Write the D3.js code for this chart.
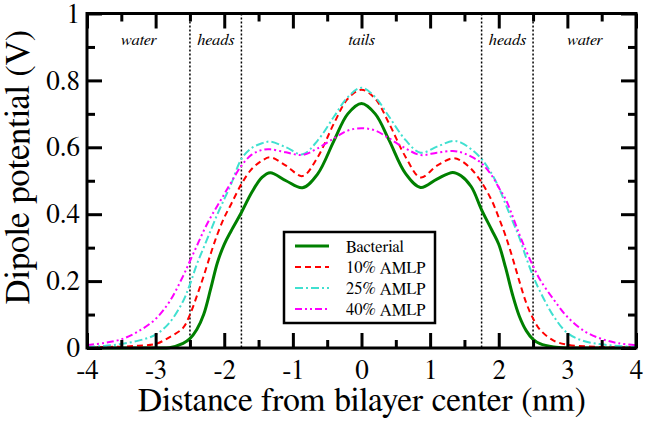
<!DOCTYPE html>
<html><head><meta charset="utf-8">
<script src="https://cdn.jsdelivr.net/npm/d3@7"></script>
<style>body{margin:0;background:#fff}svg{display:block}
.serif{font-family:FreeSerif,"Liberation Serif",serif}
.ital{font-family:FreeSerif,serif;font-style:italic}</style>
</head><body>
<script>
const xs = [-4,-3.75,-3.5,-3.25,-3,-2.8,-2.6,-2.5,-2.4,-2.3,-2.2,-2.1,-2,-1.9,-1.75,-1.6,-1.45,-1.33,-1.1,-0.86,-0.64,-0.4,-0.2,0,
            0.2,0.4,0.64,0.86,1.1,1.33,1.45,1.6,1.75,1.9,2,2.1,2.2,2.3,2.4,2.5,2.6,2.8,3,3.25,3.5,3.75,4];
const bacterial = [0,0,0,0,0,0.001,0.014,0.028,0.055,0.10,0.175,0.255,0.31,0.35,0.405,0.465,0.51,0.524,0.50,0.479,0.52,0.62,0.70,0.731,
                   0.70,0.622,0.522,0.480,0.505,0.525,0.515,0.482,0.413,0.352,0.31,0.24,0.16,0.095,0.052,0.026,0.013,0.003,0,0,0,0,0];
const amlp10 = [0.002,0.003,0.004,0.007,0.012,0.032,0.06,0.10,0.155,0.215,0.28,0.34,0.39,0.43,0.49,0.535,0.56,0.570,0.545,0.514,0.57,0.672,0.745,0.772,
                0.745,0.672,0.572,0.510,0.545,0.567,0.56,0.535,0.495,0.44,0.39,0.335,0.27,0.20,0.135,0.088,0.055,0.022,0.01,0.005,0.003,0.002,0.002];
const amlp25 = [0.003,0.006,0.012,0.022,0.04,0.075,0.14,0.19,0.25,0.30,0.35,0.40,0.445,0.49,0.565,0.598,0.612,0.617,0.60,0.579,0.62,0.692,0.75,0.778,
                0.75,0.692,0.622,0.584,0.602,0.619,0.614,0.594,0.565,0.52,0.48,0.43,0.38,0.33,0.27,0.215,0.17,0.095,0.045,0.02,0.011,0.006,0.003];
const amlp40 = [0.009,0.015,0.026,0.05,0.087,0.138,0.215,0.26,0.305,0.35,0.39,0.425,0.46,0.495,0.545,0.578,0.592,0.594,0.585,0.577,0.597,0.627,0.65,0.657,
                0.65,0.627,0.597,0.577,0.584,0.589,0.585,0.572,0.552,0.515,0.48,0.445,0.395,0.34,0.29,0.245,0.205,0.145,0.093,0.05,0.027,0.014,0.008];
const seriesNames = ["Bacterial","10% AMLP","25% AMLP","40% AMLP"];
const xTickLabels = ["-4","-3","-2","-1","0","1","2","3","4"];
const yTickLabels = ["0","0.2","0.4","0.6","0.8","1"];
const regionBounds = [-2.5,-1.75,1.75,2.5];
const regionLabels = [{t:"water",x:-3.25},{t:"heads",x:-2.125},{t:"tails",x:0},{t:"heads",x:2.125},{t:"water",x:3.25}];

const W=646,H=421;
const m={l:87,r:10,t:13.5,b:73};
const svg=d3.select("body").append("svg").attr("width",W).attr("height",H);
const x=d3.scaleLinear().domain([-4,4]).range([m.l,W-m.r]);
const y=d3.scaleLinear().domain([0,1]).range([H-m.b,m.t]);
const pw=W-m.r-m.l, ph=H-m.b-m.t;

const styles=[
  {c:"#008000",w:3,d:null},
  {c:"#ff0000",w:2,d:"6,4"},
  {c:"#40e0d0",w:2,d:"8,3,2,3"},
  {c:"#ff00ff",w:2,d:"7,3,2,3,2,3"}
];
const data=[bacterial,amlp10,amlp25,amlp40];

// region dividers
svg.append("g").selectAll("line").data(regionBounds).join("line")
  .attr("x1",d=>x(d)).attr("x2",d=>x(d)).attr("y1",y(1)).attr("y2",y(0))
  .attr("stroke","#000").attr("stroke-width",1.5).attr("stroke-dasharray","2,2");
svg.append("g").selectAll("text").data(regionLabels).join("text")
  .attr("class","ital")
  .attr("x",d=>x(d.x)).attr("y",45).attr("text-anchor","middle")
  .style("font-size","16.5px")
  .text(d=>d.t);

// curves
const line=d3.line().x(d=>x(d[0])).y(d=>y(d[1])).curve(d3.curveCatmullRom.alpha(0.5));
data.forEach((s,i)=>{
  svg.append("path").datum(xs.map((v,j)=>[v,s[j]]))
    .attr("d",line).attr("fill","none").attr("stroke",styles[i].c)
    .attr("stroke-width",styles[i].w).attr("stroke-dasharray",styles[i].d);
});

// axes
const axB=d3.axisBottom(x).tickValues(d3.range(-4,4.01,1)).tickFormat((d,i)=>xTickLabels[i]).tickSizeInner(-15).tickSizeOuter(0).tickPadding(12);
const axBm=d3.axisBottom(x).tickValues(d3.range(-3.5,4,1)).tickFormat("").tickSizeInner(-8).tickSizeOuter(0);
const axT=d3.axisTop(x).tickValues(d3.range(-4,4.01,1)).tickFormat("").tickSizeInner(-15).tickSizeOuter(0);
const axTm=d3.axisTop(x).tickValues(d3.range(-3.5,4,1)).tickFormat("").tickSizeInner(-8).tickSizeOuter(0);
const axL=d3.axisLeft(y).tickValues([0,0.2,0.4,0.6,0.8,1]).tickFormat((d,i)=>yTickLabels[i]).tickSizeInner(-15).tickSizeOuter(0).tickPadding(7);
const axLm=d3.axisLeft(y).tickValues([0.1,0.3,0.5,0.7,0.9]).tickFormat("").tickSizeInner(-8).tickSizeOuter(0);
const axR=d3.axisRight(y).tickValues([0,0.2,0.4,0.6,0.8,1]).tickFormat("").tickSizeInner(-15).tickSizeOuter(0);
const axRm=d3.axisRight(y).tickValues([0.1,0.3,0.5,0.7,0.9]).tickFormat("").tickSizeInner(-8).tickSizeOuter(0);
function put(ax,tr){
  const g=svg.append("g").attr("transform",tr).call(ax);
  g.attr("font-family",null).attr("font-size",null);
  g.select(".domain").remove();
  g.selectAll(".tick line").attr("stroke","#000").attr("stroke-width",3);
  g.selectAll("text").attr("class","serif").style("font-size","27px").attr("fill","#000");
  return g;
}
put(axB,`translate(0,${y(0)})`);
put(axBm,`translate(0,${y(0)})`);
put(axT,`translate(0,${y(1)})`);
put(axTm,`translate(0,${y(1)})`);
put(axL,`translate(${x(-4)},0)`);
put(axLm,`translate(${x(-4)},0)`);
put(axR,`translate(${x(4)},0)`);
put(axRm,`translate(${x(4)},0)`);
svg.append("rect").attr("x",m.l).attr("y",m.t).attr("width",pw).attr("height",ph)
  .attr("fill","none").attr("stroke","#000").attr("stroke-width",3);

// axis titles
svg.append("text").attr("class","serif").attr("x",362).attr("y",411).attr("text-anchor","middle")
  .style("font-size","33.5px").text("Distance from bilayer center (nm)");
svg.append("text").attr("class","serif").attr("transform",`translate(29,167) rotate(-90)`).attr("text-anchor","middle")
  .style("font-size","34.5px").text("Dipole potential (V)");

// legend
const lg=svg.append("g");
lg.append("rect").attr("x",284).attr("y",232).attr("width",151).attr("height",91)
  .attr("fill","#fff").attr("stroke","#000").attr("stroke-width",2.5);
seriesNames.forEach((n,i)=>{
  const yy=246+i*21;
  lg.append("line").attr("x1",295).attr("x2",329).attr("y1",yy).attr("y2",yy)
    .attr("stroke",styles[i].c).attr("stroke-width",styles[i].w).attr("stroke-dasharray",styles[i].d);
  lg.append("text").attr("class","serif").attr("x",346).attr("y",yy+5.5).style("font-size","16.5px").text(n);
});
</script>
</body></html>
